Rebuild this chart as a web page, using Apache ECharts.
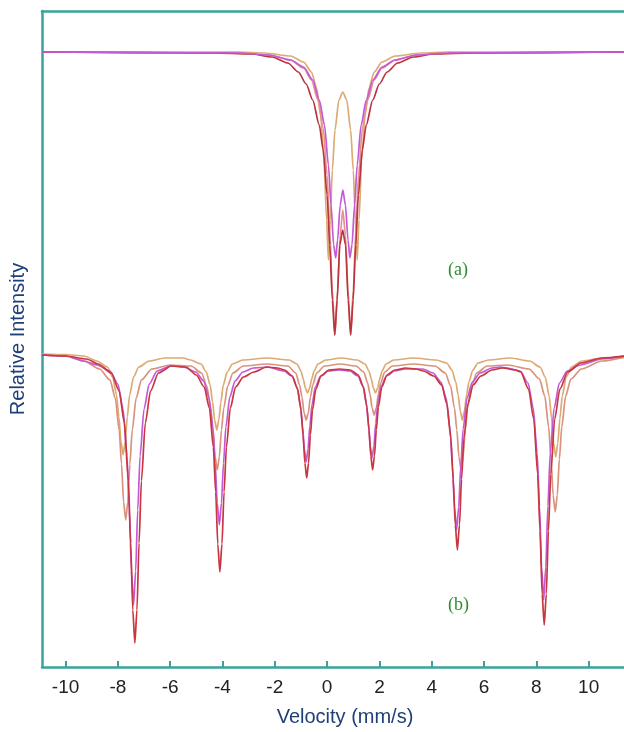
<!DOCTYPE html>
<html>
<head>
<meta charset="utf-8">
<script src="https://cdn.jsdelivr.net/npm/echarts@6/dist/echarts.min.js"></script>
<style>
  html, body { margin: 0; padding: 0; background: #fff; }
  #chart { width: 624px; height: 732px; }
</style>
</head>
<body>
<div id="chart"></div>
<script>
// velocity tick labels (mm/s)
const xTicks = [-10, -8, -6, -4, -2, 0, 2, 4, 6, 8, 10]

// spectrum (a): doublet, [velocity, relative intensity]
const aOrange = [[-10.9,615],[-3.4,615],[-2.4,614],[-1.4,611],[-0.9,605],[-0.6,595],[-0.4,579],[-0.25,552],[-0.12,507],[-0.02,447],[0.05,407],[0.12,447],[0.2,497],[0.3,537],[0.45,567],[0.6,575],[0.75,567],[0.9,537],[1.0,497],[1.08,447],[1.15,407],[1.22,447],[1.32,507],[1.45,552],[1.6,579],[1.8,595],[2.1,605],[2.6,611],[3.6,614],[4.6,615],[11.4,615]]
const aSalmon = [[-10.9,615],[-3.4,614],[-2.2,612],[-1.4,607],[-0.9,599],[-0.6,587],[-0.35,567],[-0.15,539],[0.0,492],[0.1,437],[0.2,377],[0.3,332],[0.4,377],[0.5,432],[0.6,457],[0.7,432],[0.8,377],[0.9,332],[1.0,377],[1.1,437],[1.2,492],[1.35,539],[1.55,567],[1.8,587],[2.1,599],[2.6,607],[3.4,612],[4.6,614],[11.4,615]]
const aMagenta = [[-10.9,615],[-3.4,614],[-2.2,612],[-1.4,607],[-0.9,600],[-0.55,587],[-0.3,567],[-0.1,542],[0.05,502],[0.15,462],[0.25,422],[0.33,409],[0.4,427],[0.5,462],[0.6,477],[0.7,462],[0.8,427],[0.87,409],[0.95,422],[1.05,462],[1.15,502],[1.3,542],[1.5,567],[1.75,587],[2.1,600],[2.6,607],[3.4,612],[4.6,614],[11.4,615]]
const aRed = [[-10.9,615],[-4.4,614],[-2.9,613],[-2.1,610],[-1.5,604],[-1.1,595],[-0.8,583],[-0.55,567],[-0.3,542],[-0.15,517],[0.0,472],[0.1,422],[0.2,367],[0.29,332],[0.385,367],[0.485,422],[0.595,437],[0.705,422],[0.805,367],[0.9,332],[0.995,367],[1.095,422],[1.195,472],[1.345,517],[1.495,542],[1.745,567],[1.995,583],[2.295,595],[2.695,604],[3.295,610],[4.095,613],[5.6,614],[11.4,615]]

// spectrum (b): sextet
const bOrange = [[-10.9,313],[-10,312.5],[-9.3,311],[-8.8,306],[-8.4,300],[-8.2,290],[-8.05,272],[-7.96,250],[-7.88,225],[-7.8,212],[-7.72,225],[-7.64,250],[-7.55,272],[-7.4,290],[-7.2,300],[-6.8,306],[-6.2,309],[-5.5,309],[-5.22,307],[-4.82,303],[-4.62,295],[-4.47,282],[-4.38,265],[-4.3,247],[-4.22,237],[-4.14,247],[-4.06,265],[-3.97,282],[-3.82,295],[-3.62,303],[-3.22,307],[-2.3,309],[-1.45,307],[-1.15,303],[-1.0,296],[-0.91,288],[-0.83,279],[-0.75,274],[-0.67,279],[-0.59,288],[-0.5,296],[-0.35,303],[-0.05,307],[0.55,309],[1.15,307],[1.45,303],[1.6,296],[1.69,288],[1.77,279],[1.85,274],[1.93,279],[2.01,288],[2.1,296],[2.25,303],[2.55,307],[3.3,309],[4.17,307],[4.57,304],[4.77,297],[4.92,285],[5.01,272],[5.09,256],[5.17,247],[5.25,256],[5.33,272],[5.42,285],[5.57,297],[5.77,304],[6.17,307],[7.0,309],[7.74,306],[8.14,300],[8.34,290],[8.49,271],[8.58,249],[8.66,224],[8.74,210],[8.82,224],[8.9,249],[8.99,271],[9.14,290],[9.34,300],[9.74,306],[10.5,309],[11.4,310]]
const bBrown = [[-10.9,312],[-10,311],[-9.3,306],[-8.7,298],[-8.3,287],[-8.1,269],[-7.95,237],[-7.86,203],[-7.78,165],[-7.7,147],[-7.62,165],[-7.54,203],[-7.45,237],[-7.3,269],[-7.1,287],[-6.7,298],[-6.0,302],[-5.2,301],[-4.8,294],[-4.6,281],[-4.45,259],[-4.36,237],[-4.28,210],[-4.2,197],[-4.12,210],[-4.04,237],[-3.95,259],[-3.8,281],[-3.6,294],[-3.2,301],[-2.3,303],[-1.5,301],[-1.2,294],[-1.05,282],[-0.96,270],[-0.88,254],[-0.8,247],[-0.72,254],[-0.64,270],[-0.55,282],[-0.4,294],[-0.1,301],[0.5,303],[1.1,301],[1.4,295],[1.55,284],[1.64,273],[1.72,259],[1.8,252],[1.88,259],[1.96,273],[2.05,284],[2.2,295],[2.5,301],[3.3,303],[4.12,301],[4.52,294],[4.72,281],[4.87,259],[4.96,237],[5.04,210],[5.12,197],[5.2,210],[5.28,237],[5.37,259],[5.52,281],[5.72,294],[6.12,301],[6.9,302],[7.72,298],[8.12,288],[8.32,271],[8.47,240],[8.56,208],[8.64,172],[8.72,155],[8.8,172],[8.88,208],[8.97,240],[9.12,271],[9.32,288],[9.72,298],[10.5,306],[11.4,310]]
const bMagenta = [[-10.9,312],[-10,311],[-9.3,306],[-8.8,302],[-8.3,296],[-8.0,283],[-7.8,258],[-7.65,211],[-7.56,157],[-7.48,96],[-7.4,62],[-7.32,96],[-7.24,157],[-7.15,211],[-7.0,258],[-6.8,283],[-6.5,296],[-6.0,301],[-5.5,300],[-5.02,295],[-4.72,286],[-4.52,270],[-4.37,240],[-4.28,204],[-4.2,164],[-4.12,142],[-4.04,164],[-3.96,204],[-3.87,240],[-3.72,270],[-3.52,286],[-3.22,295],[-2.82,299],[-2.3,300],[-1.65,296],[-1.35,291],[-1.15,280],[-1.02,262],[-0.94,241],[-0.87,218],[-0.8,205],[-0.73,218],[-0.66,241],[-0.58,262],[-0.45,280],[-0.25,291],[0.05,296],[0.46,297],[0.87,296],[1.17,291],[1.37,281],[1.5,264],[1.58,244],[1.65,221],[1.72,209],[1.79,221],[1.86,244],[1.94,264],[2.07,281],[2.27,291],[2.57,296],[3.0,298],[3.65,298],[4.05,294],[4.35,285],[4.55,269],[4.7,238],[4.79,201],[4.87,160],[4.95,137],[5.03,160],[5.11,201],[5.2,238],[5.35,269],[5.55,285],[5.85,294],[6.3,299],[6.6,300],[6.9,299],[7.38,296],[7.68,284],[7.88,259],[8.03,214],[8.12,161],[8.2,100],[8.28,67],[8.36,100],[8.44,161],[8.53,214],[8.68,259],[8.88,284],[9.18,296],[9.68,302],[10.5,308],[11.4,311]]
const bRed = [[-10.9,312],[-10,311],[-9.2,308],[-8.75,303],[-8.25,294],[-7.95,276],[-7.75,244],[-7.6,186],[-7.51,124],[-7.43,57],[-7.35,24],[-7.27,57],[-7.19,124],[-7.1,186],[-6.95,244],[-6.75,276],[-6.45,294],[-5.95,301],[-5.4,300],[-5.0,292],[-4.7,280],[-4.5,259],[-4.35,220],[-4.26,175],[-4.18,123],[-4.1,95],[-4.02,123],[-3.94,175],[-3.85,220],[-3.7,259],[-3.5,280],[-3.2,290],[-2.8,295],[-2.3,300],[-1.9,299],[-1.63,297],[-1.33,291],[-1.13,278],[-1.0,257],[-0.92,232],[-0.85,204],[-0.78,189],[-0.71,204],[-0.64,232],[-0.56,257],[-0.43,278],[-0.23,291],[0.07,297],[0.48,298],[0.89,297],[1.19,292],[1.39,280],[1.52,260],[1.6,237],[1.67,211],[1.74,197],[1.81,211],[1.88,237],[1.96,260],[2.09,280],[2.29,292],[2.59,297],[3.0,299],[3.4,298],[3.68,296],[4.08,291],[4.38,282],[4.58,263],[4.73,229],[4.82,188],[4.9,142],[4.98,117],[5.06,142],[5.14,188],[5.23,229],[5.38,263],[5.58,282],[5.88,291],[6.3,297],[6.7,299],[7.2,297],[7.4,295],[7.7,278],[7.9,248],[8.05,193],[8.14,136],[8.22,73],[8.3,42],[8.38,73],[8.46,136],[8.55,193],[8.7,248],[8.9,278],[9.2,295],[9.7,304],[10.5,309],[11.4,311]]

const teal = '#3aa39c'
const navy = '#1f3f78'
const xMin = -10.9
const xMax = 11.35

const chart = echarts.init(document.getElementById('chart'))

function line(data, color, width) {
  return {
    type: 'line',
    data: data,
    symbol: 'none',
    smooth: 0.25,
    smoothMonotone: 'x',
    lineStyle: { color: color, width: width || 1.7 },
    silent: true
  }
}

chart.setOption({
  animation: false,
  backgroundColor: '#fff',
  grid: {
    left: 42,
    right: 0,
    top: 11,
    bottom: 65
  },
  xAxis: [
    {
      type: 'value',
      min: xMin,
      max: xMax,
      name: 'Velocity (mm/s)',
      nameLocation: 'middle',
      nameGap: 40,
      nameTextStyle: { color: navy, fontSize: 20, fontFamily: 'Liberation Sans', padding: [0, 0, 0, 24] },
      axisLine: { show: true, onZero: false, lineStyle: { color: teal, width: 2.5 } },
      axisTick: { show: true, inside: true, length: 6, customValues: xTicks, lineStyle: { color: teal, width: 2 } },
      axisLabel: { customValues: xTicks, margin: 11, color: '#222', fontSize: 19, fontFamily: 'Liberation Sans' },
      splitLine: { show: false }
    },
    {
      // top frame line
      type: 'value',
      position: 'top',
      min: xMin,
      max: xMax,
      axisLine: { show: true, onZero: false, lineStyle: { color: teal, width: 2.5 } },
      axisTick: { show: false },
      axisLabel: { show: false },
      splitLine: { show: false }
    }
  ],
  yAxis: {
    type: 'value',
    min: 0,
    max: 656,
    name: 'Relative Intensity',
    nameLocation: 'middle',
    nameGap: 14,
    nameTextStyle: { color: navy, fontSize: 20, fontFamily: 'Liberation Sans' },
    axisLine: { show: true, onZero: false, lineStyle: { color: teal, width: 2.5 } },
    axisTick: { show: false },
    axisLabel: { show: false },
    splitLine: { show: false }
  },
  graphic: [
    { type: 'text', left: 448, top: 261, style: { text: '(a)', fill: '#2e8b2e', font: '18px "Liberation Serif"' } },
    { type: 'text', left: 448, top: 596, style: { text: '(b)', fill: '#2e8b2e', font: '18px "Liberation Serif"' } }
  ],
  series: [
    line(aOrange, '#dcaa72'),
    line(aSalmon, '#e8928c'),
    line(aRed, '#b8343e'),
    line(aMagenta, '#c45ad6'),
    line(bOrange, '#dcaa72'),
    line(bBrown, '#d9927c'),
    line(bMagenta, '#c45ad6'),
    line(bRed, '#c8363f')
  ]
})
</script>
</body>
</html>
